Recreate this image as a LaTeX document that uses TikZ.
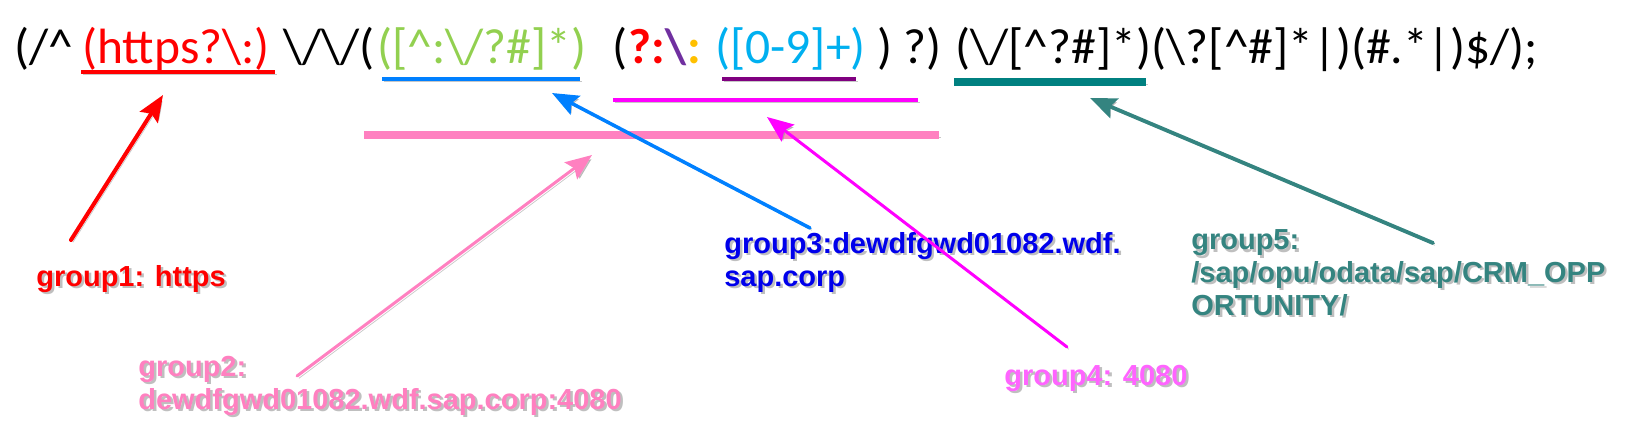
\documentclass[tikz,border=0pt]{standalone}
\usepackage{fontspec}
\setmainfont{Liberation Sans}
\newfontfamily\regexfont{Carlito}
\usepackage{xcolor}
\usetikzlibrary{arrows.meta,calc,positioning}

\definecolor{grpred}{RGB}{255,0,0}
\definecolor{grpgreen}{RGB}{146,208,80}
\definecolor{grpcyan}{RGB}{0,176,240}
\definecolor{grpviolet}{RGB}{112,48,160}
\definecolor{grporange}{RGB}{255,192,0}
\definecolor{grppurple}{RGB}{128,0,128}
\definecolor{grpblue}{RGB}{0,128,255}
\definecolor{grpdarkblue}{RGB}{0,0,235}
\definecolor{grpmagenta}{RGB}{255,0,255}
\definecolor{grplightmag}{RGB}{255,100,255}
\definecolor{grppink}{RGB}{255,128,192}
\definecolor{grpteal}{RGB}{0,128,128}
\definecolor{grpsea}{RGB}{52,132,128}

\newcommand\txtshadow[1]{\rlap{\kern1.4pt\raisebox{-1.4pt}{\textcolor{black!25}{#1}}}#1}

\begin{document}
\begin{tikzpicture}[
  x=0.02cm, y=-0.02cm,
  regex/.style={anchor=base west, inner sep=0pt, font=\regexfont\fontsize{28.2}{34}\selectfont},
  grplabel/.style={anchor=base west, inner sep=0pt, align=left, font=\fontsize{16.5}{18.6}\selectfont\bfseries},
  shadowed/.style={preaction={draw=black!40, opacity=0.55, transform canvas={shift={(1.1pt,-1.3pt)}}}},
  ubar/.style={shadowed, line width=#1, line cap=butt},
  arrow/.style={shadowed, -{Stealth[length=15pt,width=12pt,inset=2.5pt]}, line width=2pt, line cap=round}
]
\useasboundingbox (0,0) rectangle (1629,434);

% the expression
\node[regex] (pre) at (14,63) {(/\textasciicircum};
\node[regex, text=grpred] (https) at (82,63) {(https?\textbackslash:)};
\node[regex] (dslash) at (283,63) {\textbackslash/\textbackslash/(};
\node[regex, text=grpgreen] (host) at (377,63) {([\textasciicircum:\textbackslash/?\#]*)};
\node[regex] (popen) at (612,63) {(};
\node[regex, text=grpred] (nocap) at (popen.base east) {\bfseries ?:};
\node[regex, text=grpviolet] (esc) at (nocap.base east) {\bfseries\textbackslash};
\node[regex, text=grporange] (colon) at (esc.base east) {\bfseries :};
\node[regex, text=grpcyan] (port) at (715,63) {([0-9]+)};
\node[regex] (pclose) at (877,63) {) ?)};
\node[regex] (path) at (955,63) {(\textbackslash/[\textasciicircum?\#]*)};
\node[regex] (rest) at (path.base east) {(\textbackslash?[\textasciicircum\#]*|)(\#.*|)\$/);};

% underlines
\draw[ubar=2.3pt, grpred] (81,72) -- (275,72);
\draw[ubar=2.2pt, grpblue] (382,79) -- (580,79);
\draw[ubar=2.2pt, grppurple] (722,79) -- (856,79);
\draw[ubar=4pt, grpteal] (954,82) -- (1146,82);
\draw[ubar=2.8pt, grpmagenta] (613,100) -- (918,100);
\draw[ubar=4pt, grppink] (364,135) -- (939,135);

% labels (base = last line)
\node[grplabel, text=grpred] (g1) at (36,286) {\txtshadow{group1: https}};
\node[grplabel, text=grppink] (g2) at (138,409) {\txtshadow{group2:}\\\txtshadow{dewdfgwd01082.wdf.sap.corp:4080}};
\node[grplabel, text=grpdarkblue] (g3) at (724,286) {\txtshadow{group3:dewdfgwd01082.wdf.}\\\txtshadow{sap.corp}};
\node[grplabel, text=grplightmag] (g4) at (1004,385) {\txtshadow{group4: 4080}};
\node[grplabel, text=grpsea] (g5) at (1191,315) {\txtshadow{group5:}\\\txtshadow{/sap/opu/odata/sap/CRM\_OPP}\\\txtshadow{ORTUNITY/}};

% arrow ends
\coordinate (tail1) at (71,240);   \coordinate (tip1) at (163,95);
\coordinate (tail2) at (297,376);  \coordinate (tip2) at (592,155);
\coordinate (tail3) at (810,228);  \coordinate (tip3) at (552,93);
\coordinate (tail4) at (1067,347); \coordinate (tip4) at (767,117);
\coordinate (tail5) at (1433,243); \coordinate (tip5) at (1090,98);

\draw[arrow, grpred, line width=2.3pt] (tail1) -- (tip1);
\draw[arrow, grppink, line width=1.7pt] (tail2) -- (tip2);
\draw[arrow, grpblue] (tail3) -- (tip3);
\draw[arrow, grpmagenta, line width=1.7pt] (tail4) -- (tip4);
\draw[arrow, grpsea, line width=2.2pt] (tail5) -- (tip5);
\end{tikzpicture}
\end{document}
